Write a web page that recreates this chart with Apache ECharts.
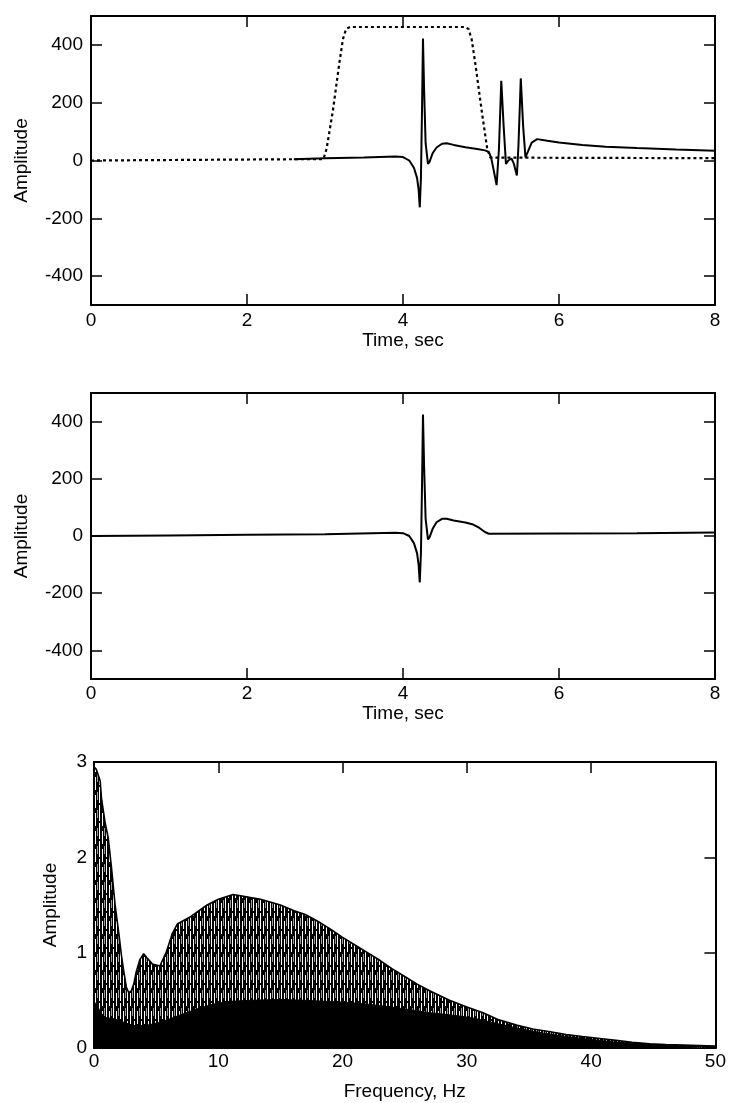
<!DOCTYPE html>
<html><head><meta charset="utf-8">
<script src="https://cdn.jsdelivr.net/npm/echarts@6/dist/echarts.min.js"></script>
<style>html,body{margin:0;padding:0;background:#fff}#c{width:729px;height:1103px}</style>
</head><body><div id="c"></div>
<script>
// ---- tick labels ----
const timeTicks = [0, 2, 4, 6, 8];
const ampTicks = [-400, -200, 0, 200, 400];
const freqTicks = [0, 10, 20, 30, 40, 50];
const specTicks = [0, 1, 2, 3];

// ---- panel 1: raw trace (solid) ----
const rawT = [2.6, 3.0, 3.5, 3.9, 4.0, 4.08, 4.14, 4.18, 4.2, 4.215, 4.23, 4.245, 4.256, 4.27, 4.29, 4.32, 4.34, 4.38, 4.43, 4.5, 4.56, 4.65, 4.8, 4.95, 5.05, 5.1, 5.13, 5.16, 5.2, 5.23, 5.26, 5.29, 5.32, 5.35, 5.39, 5.42, 5.46, 5.48, 5.51, 5.54, 5.57, 5.6, 5.65, 5.72, 5.85, 6.0, 6.3, 6.6, 7.0, 7.5, 8.0];
const rawA = [4, 8, 10, 14, 12, 0, -25, -60, -100, -162, -60, 200, 422, 250, 60, -12, -5, 25, 45, 58, 60, 54, 46, 40, 35, 30, 10, -30, -85, 40, 276, 120, -12, 0, 7, -10, -52, 50, 284, 120, 11, 30, 62, 74, 68, 62, 54, 48, 43, 38, 34];

// ---- panel 1: taper window (dotted) ----
const taperT = [0, 2.98, 3.02, 3.1, 3.18, 3.23, 3.27, 3.32, 4.8, 4.84, 4.88, 4.93, 5.01, 5.08, 5.12, 8];
const taperA = [0, 5, 40, 170, 330, 420, 455, 462, 462, 455, 420, 330, 170, 40, 10, 8];

// ---- panel 2: tapered trace ----
const tapT = [0, 1, 2, 3, 3.9, 4.0, 4.08, 4.14, 4.18, 4.2, 4.215, 4.23, 4.245, 4.256, 4.27, 4.29, 4.32, 4.34, 4.38, 4.43, 4.5, 4.56, 4.65, 4.8, 4.9, 4.98, 5.05, 5.1, 6, 7, 8];
const tapA = [0, 2, 4, 6, 11, 10, 0, -25, -60, -100, -162, -60, 200, 425, 250, 60, -12, -5, 25, 48, 60, 60, 54, 47, 40, 28, 14, 8, 9, 10, 12];

// ---- panel 3: amplitude spectrum, upper and lower envelopes ----
const fUpper = [0, 0.2, 0.5, 0.6, 0.9, 1.15, 1.4, 1.7, 2.0, 2.2, 2.4, 2.6, 2.8, 3.0, 3.2, 3.4, 3.7, 4.0, 4.3, 4.7, 5.3, 5.8, 6.3, 6.7, 7.8, 9.1, 10, 11.2, 12.5, 13.4, 15, 16.1, 17, 18, 19, 20, 21, 22, 23, 24, 25, 26, 27, 28.6, 30, 31.3, 32.5, 34, 35.3, 36.7, 38, 39.3, 40.7, 42, 43.3, 44.7, 46, 47.4, 48.7, 50];
const aUpper = [2.95, 2.92, 2.8, 2.62, 2.36, 2.2, 1.9, 1.5, 1.2, 0.98, 0.8, 0.64, 0.58, 0.6, 0.67, 0.8, 0.93, 0.99, 0.94, 0.88, 0.86, 1.0, 1.2, 1.3, 1.38, 1.5, 1.56, 1.61, 1.58, 1.56, 1.5, 1.44, 1.4, 1.33, 1.25, 1.16, 1.08, 1.0, 0.92, 0.83, 0.75, 0.67, 0.6, 0.5, 0.43, 0.37, 0.3, 0.24, 0.2, 0.17, 0.14, 0.12, 0.1, 0.08, 0.06, 0.045, 0.035, 0.03, 0.025, 0.02];
const fLower = [0, 0.2, 0.5, 0.9, 1.5, 2.0, 2.6, 3.4, 4.3, 5.3, 6.2, 7.2, 8.5, 9.9, 11, 12.5, 15, 17, 20.2, 22, 23.3, 25, 27, 28.5, 30.3, 32, 34, 36, 38, 40, 42, 44, 46, 48, 50];
const aLower = [0.47, 0.47, 0.38, 0.32, 0.31, 0.29, 0.26, 0.23, 0.24, 0.27, 0.31, 0.36, 0.42, 0.47, 0.49, 0.5, 0.51, 0.5, 0.48, 0.46, 0.44, 0.41, 0.37, 0.35, 0.32, 0.27, 0.21, 0.16, 0.12, 0.09, 0.06, 0.045, 0.025, 0.015, 0.01];

const FONT = '"Liberation Sans", Arial, Helvetica, sans-serif';
const pair = (xs, ys) => xs.map((x, i) => [x, ys[i]]);

function hatch() {
  const c = document.createElement('canvas');
  c.width = 7; c.height = 18;
  const g = c.getContext('2d');
  g.fillStyle = '#000'; g.fillRect(0, 0, 7, 18);
  g.fillStyle = '#fff';
  g.fillRect(1, 0, 1, 11);
  g.fillRect(1, 13, 1, 5);
  g.fillRect(4, 3, 1, 13);
  g.fillStyle = '#9a9a9a';
  g.fillRect(6, 0, 1, 8);
  return c;
}

const lineStyleAxis = { color: '#000', width: 2 };
const tickStyle = { color: '#000', width: 1.5 };
const labelStyle = { color: '#000', fontSize: 19, fontFamily: FONT };
const nameStyle = { color: '#000', fontSize: 19, fontFamily: FONT };

function xAx(grid, pos, min, max, interval, show, margin, name, nameGap) {
  return {
    type: 'value', gridIndex: grid, position: pos, min: min, max: max, interval: interval,
    axisLine: { show: true, onZero: false, lineStyle: lineStyleAxis },
    axisTick: { show: true, inside: true, length: 11, lineStyle: tickStyle },
    axisLabel: Object.assign({ show: show, margin: margin }, labelStyle),
    splitLine: { show: false },
    name: name || '', nameLocation: 'middle', nameGap: nameGap || 0, nameTextStyle: nameStyle
  };
}
function yAx(grid, pos, min, max, interval, custom, show, margin, name, nameGap) {
  const a = {
    type: 'value', gridIndex: grid, position: pos, min: min, max: max, interval: interval,
    axisLine: { show: true, onZero: false, lineStyle: lineStyleAxis },
    axisTick: { show: true, inside: true, length: 11, lineStyle: tickStyle },
    axisLabel: Object.assign({ show: show, margin: margin }, labelStyle),
    splitLine: { show: false },
    name: name || '', nameLocation: 'middle', nameGap: nameGap || 0, nameTextStyle: nameStyle
  };
  if (custom) { a.axisTick.customValues = custom; a.axisLabel.customValues = custom; }
  return a;
}

const chart = echarts.init(document.getElementById('c'), null, { renderer: 'canvas' });
chart.setOption({
  animation: false,
  backgroundColor: '#fff',
  grid: [
    { left: 91, right: 14, top: 16, height: 289 },
    { left: 91, right: 14, top: 393, height: 286 },
    { left: 94, right: 13, top: 762, height: 286 }
  ],
  xAxis: [
    xAx(0, 'bottom', timeTicks[0], timeTicks[timeTicks.length - 1], 2, true, 6, 'Time, sec', 24),
    xAx(0, 'top', timeTicks[0], timeTicks[timeTicks.length - 1], 2, false, 6),
    xAx(1, 'bottom', timeTicks[0], timeTicks[timeTicks.length - 1], 2, true, 5, 'Time, sec', 23),
    xAx(1, 'top', timeTicks[0], timeTicks[timeTicks.length - 1], 2, false, 6),
    xAx(2, 'bottom', freqTicks[0], freqTicks[freqTicks.length - 1], 10, true, 4, 'Frequency, Hz', 34),
    xAx(2, 'top', freqTicks[0], freqTicks[freqTicks.length - 1], 10, false, 6)
  ],
  yAxis: [
    yAx(0, 'left', -500, 500, 100, ampTicks, true, 8, 'Amplitude', 60),
    yAx(0, 'right', -500, 500, 100, ampTicks, false, 8),
    yAx(1, 'left', -500, 500, 100, ampTicks, true, 8, 'Amplitude', 60),
    yAx(1, 'right', -500, 500, 100, ampTicks, false, 8),
    yAx(2, 'left', specTicks[0], specTicks[specTicks.length - 1], 1, null, true, 7, 'Amplitude', 34),
    yAx(2, 'right', specTicks[0], specTicks[specTicks.length - 1], 1, null, false, 7)
  ],
  series: [
    { type: 'line', xAxisIndex: 0, yAxisIndex: 0, data: pair(taperT, taperA), symbol: 'none',
      lineStyle: { color: '#000', width: 2.2, type: [3, 3] }, z: 3 },
    { type: 'line', xAxisIndex: 0, yAxisIndex: 0, data: pair(rawT, rawA), symbol: 'none',
      lineStyle: { color: '#000', width: 2 }, z: 4 },
    { type: 'line', xAxisIndex: 2, yAxisIndex: 2, data: pair(tapT, tapA), symbol: 'none',
      lineStyle: { color: '#000', width: 2 }, z: 4 },
    { type: 'line', xAxisIndex: 4, yAxisIndex: 4, data: pair(fUpper, aUpper), symbol: 'none',
      lineStyle: { color: '#000', width: 1.6 },
      areaStyle: { color: { image: hatch(), repeat: 'repeat' }, opacity: 1, origin: 'start' }, z: 2 },
    { type: 'line', xAxisIndex: 4, yAxisIndex: 4, data: pair(fLower, aLower), symbol: 'none',
      lineStyle: { color: '#000', width: 1 },
      areaStyle: { color: '#000', opacity: 1, origin: 'start' }, z: 3 }
  ]
});
</script>
</body></html>
